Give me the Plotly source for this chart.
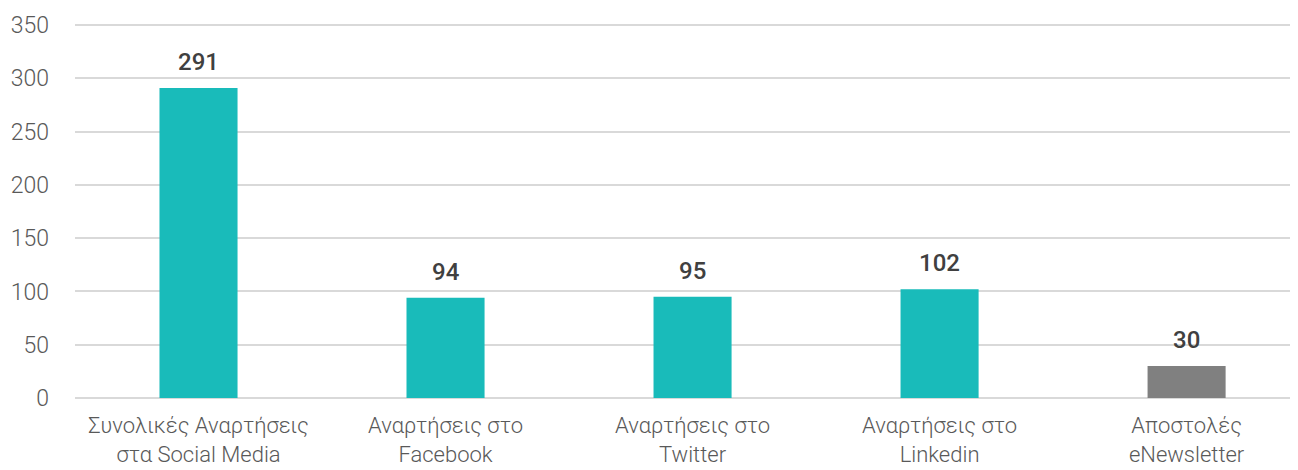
import plotly.graph_objects as go

categories = [
    "Συνολικές Αναρτήσεις<br>στα Social Media",
    "Αναρτήσεις στο<br>Facebook",
    "Αναρτήσεις στο<br>Twitter",
    "Αναρτήσεις στο<br>Linkedin",
    "Αποστολές<br>eNewsletter",
]
values = [291, 94, 95, 102, 30]
bar_colors = ["#19BBBA", "#19BBBA", "#19BBBA", "#19BBBA", "#808080"]
y_ticks = [0, 50, 100, 150, 200, 250, 300, 350]

fig = go.Figure()

fig.add_trace(
    go.Bar(
        x=categories,
        y=values,
        marker=dict(color=bar_colors, line=dict(width=0)),
        hoverinfo="x+y",
    )
)

# value labels above the bars
for cat, val in zip(categories, values):
    fig.add_annotation(
        x=cat, y=val, text=str(val),
        showarrow=False, yanchor="bottom", yshift=10,
        font=dict(family="Roboto", size=24, color="#404040", weight=500),
    )

# page body has an 8px margin, so the figure is sized to fit the window
fig.update_layout(
    width=1290,
    height=462,
    margin=dict(l=67, r=0, t=15, b=72),
    plot_bgcolor="white",
    paper_bgcolor="white",
    bargap=0.684,
    showlegend=False,
    font=dict(family="Roboto", size=22, color="#595959", weight=300),
    xaxis=dict(
        range=[-0.5, 4.451],  # right edge of the original is cropped
        showgrid=False,
        showline=False,
        ticks="",
        automargin=False,
        ticklabelstandoff=12,
        tickfont=dict(size=22, color="#595959", weight=300),
    ),
    yaxis=dict(
        range=[0, 352],
        tickvals=y_ticks,
        showgrid=True,
        gridcolor="#d9d9d9",
        gridwidth=1.5,
        zeroline=True,
        zerolinecolor="#d9d9d9",
        zerolinewidth=1.5,
        showline=False,
        ticks="",
        automargin=False,
        ticklabelstandoff=25,
        tickfont=dict(size=23, color="#595959", weight=300),
    ),
)

fig.write_html("out.html")
